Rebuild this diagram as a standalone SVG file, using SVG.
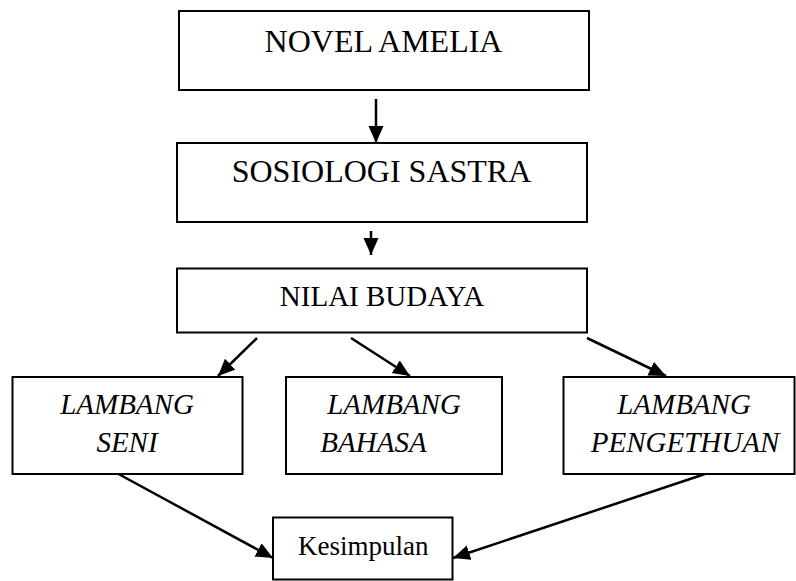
<svg xmlns="http://www.w3.org/2000/svg" width="796" height="581" viewBox="0 0 796 581">
<style>
.box{fill:#fff;stroke:#000;stroke-width:2}
.t{font-family:"Liberation Serif","Times New Roman",serif;fill:#000;text-anchor:middle}
.i{font-style:italic}
.c{stroke:#000;stroke-width:2.5;fill:none;marker-end:url(#ah)}
</style>
<defs>
<marker id="ah" markerUnits="userSpaceOnUse" markerWidth="18" markerHeight="16" refX="17" refY="7.5" orient="auto">
<path d="M0,0 L17,7.5 L0,15 z" fill="#000"/>
</marker>
</defs>
<rect width="796" height="581" fill="#fff"/>
<g id="connectors">
<line class="c" x1="376" y1="99" x2="376" y2="143"/>
<line class="c" x1="371" y1="231" x2="371" y2="255"/>
<line class="c" x1="257" y1="338" x2="218" y2="376"/>
<line class="c" x1="351" y1="338" x2="410" y2="376"/>
<line class="c" x1="587" y1="338" x2="666" y2="376"/>
<line class="c" x1="113" y1="471" x2="273" y2="558"/>
<line class="c" x1="705" y1="474" x2="453" y2="558"/>
</g>
<g id="novel">
<rect class="box" x="179" y="11" width="410" height="79"/>
<text class="t" x="383.5" y="52" font-size="32">NOVEL AMELIA</text>
</g>
<g id="sosiologi">
<rect class="box" x="177" y="143" width="410" height="79"/>
<text class="t" x="381.5" y="182" font-size="32">SOSIOLOGI SASTRA</text>
</g>
<g id="nilai">
<rect class="box" x="177" y="268.5" width="410" height="64"/>
<text class="t" x="382" y="306" font-size="29">NILAI BUDAYA</text>
</g>
<g id="seni">
<rect class="box" x="12.5" y="377" width="230" height="97"/>
<text class="t i" x="127" y="414" font-size="29">LAMBANG</text>
<text class="t i" x="127" y="452" font-size="29">SENI</text>
</g>
<g id="bahasa">
<rect class="box" x="286" y="377" width="216" height="97"/>
<text class="t i" x="394" y="414" font-size="29">LAMBANG</text>
<text class="t i" x="373.5" y="452" font-size="29">BAHASA</text>
</g>
<g id="pengethuan">
<rect class="box" x="563.5" y="377" width="231" height="97"/>
<text class="t i" x="684" y="414" font-size="29">LAMBANG</text>
<text class="t i" x="685" y="452" font-size="29">PENGETHUAN</text>
</g>
<g id="kesimpulan">
<rect class="box" x="273" y="517.5" width="179.5" height="62"/>
<text class="t" x="363.3" y="555" font-size="27">Kesimpulan</text>
</g>
</svg>
